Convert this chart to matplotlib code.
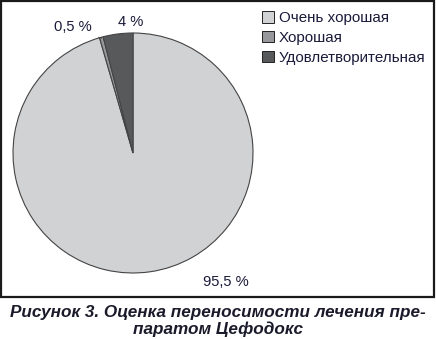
import matplotlib
matplotlib.use("Agg")
import matplotlib.pyplot as plt
from matplotlib.patches import Rectangle, Patch
import numpy as np

categories = ["Очень хорошая", "Хорошая", "Удовлетворительная"]
values = [95.5, 0.5, 4]
value_labels = ["95,5 %", "0,5 %", "4 %"]
colors = ["#d1d2d4", "#97989b", "#58595b"]
caption = "Рисунок 3. Оценка переносимости лечения пре-\nпаратом Цефодокс"

W, H = 436, 339
fig = plt.figure(figsize=(W / 100, H / 100), dpi=100)
plt.rcParams['font.family'] = ['Liberation Sans', 'DejaVu Sans']

def fx(px):
    return px / W

def fy(py):
    return 1 - py / H

# frame
fig.patches.append(Rectangle((fx(1), fy(297)), fx(433), 296 / H, transform=fig.transFigure,
                             fill=False, edgecolor="#1a1a1a", linewidth=1.6))

cx, cy, r = 133, 153, 120
ax = fig.add_axes([fx(cx - r), fy(cy + r), 2 * r / W, 2 * r / H])
wedges, _ = ax.pie(values, colors=colors, startangle=90, counterclock=False,
                   wedgeprops=dict(edgecolor="#444444", linewidth=0.8))
ax.set_xlim(-1, 1)
ax.set_ylim(-1, 1)
ax.set_aspect("auto")
ax.axis("off")

# labels
tc = "#1a1a3a"
fs = 10.6
for i, w in enumerate(wedges):
    ang = np.deg2rad((w.theta1 + w.theta2) / 2)
    x, y = np.cos(ang), np.sin(ang)
    if i == 0:
        ax.text(0.77, -1.075, value_labels[i], ha="center", va="center", fontsize=fs, color=tc)
    elif i == 1:
        ax.annotate(value_labels[i], xy=(x * 0.99, y * 0.99), xytext=(-0.5, 1.05),
                    ha="center", va="center", fontsize=fs, color=tc,
                    arrowprops=dict(arrowstyle="-", color="#444444", lw=0.6,
                                    shrinkA=3, shrinkB=0))
    else:
        ax.text(-0.017, 1.09, value_labels[i], ha="center", va="center", fontsize=fs, color=tc)

handles = [Patch(facecolor=c, edgecolor="#222222", linewidth=0.7) for c in colors]
fig.legend(handles, categories, loc="upper left", bbox_to_anchor=(fx(256), fy(5)),
           frameon=False, fontsize=10.9, handlelength=0.8, handleheight=0.8,
           handletextpad=0.3, labelspacing=0.38, borderaxespad=0)
for t in fig.legends[0].get_texts():
    t.set_color(tc)

fig.text(0.5, fy(321), caption, ha="center", va="center", fontsize=12.3,
         fontweight="bold", fontstyle="italic", linespacing=1.15, color="#1a1a2a")

fig.savefig("out.png", dpi=100)
